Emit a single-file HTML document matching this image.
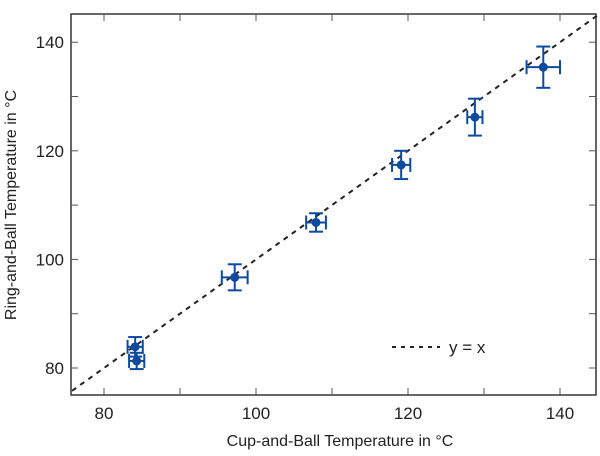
<!DOCTYPE html>
<html><head><meta charset="utf-8"><style>
html,body{margin:0;padding:0;background:#fff;}
svg{display:block;font-family:"Liberation Sans",sans-serif;}
</style></head><body>
<svg id="chart" width="600" height="456"></svg>
<script>
const xVals=[84.1,84.3,97.2,107.9,119.1,128.8,137.8];
const yVals=[83.9,81.3,96.7,106.8,117.4,126.2,135.4];
const xErr=[1.0,1.0,1.7,1.3,1.2,1.0,2.2];
const yErr=[1.8,1.5,2.4,1.7,2.6,3.4,3.8];
const xTicks=[80,100,120,140];
const yTicks=[80,100,120,140];
const minorX=[90,110,130];
const minorY=[90,110,130];
const L=71,R=596,T=14,B=395;
const sx=v=>104+(v-80)*7.6;
const sy=v=>368-(v-80)*5.43;
const NS="http://www.w3.org/2000/svg";
const svg=document.getElementById('chart');
function mk(tag,attrs,parent){const e=document.createElementNS(NS,tag);for(const k in attrs)e.setAttribute(k,attrs[k]);(parent||svg).appendChild(e);return e;}
const frame=mk('rect',{x:L,y:T,width:R-L,height:B-T,fill:'none',stroke:'#333','stroke-width':1.5});


xTicks.concat(minorX).forEach(v=>{
  const x=sx(v);
  const t1=mk('line',{x1:x,x2:x,y1:B,y2:B-7,stroke:'#555','stroke-width':1});
  
  
  const t2=mk('line',{x1:x,x2:x,y1:T,y2:T+7,stroke:'#555','stroke-width':1});
  
  
});
yTicks.concat(minorY).forEach(v=>{
  const y=sy(v);
  const t1=mk('line',{x1:L,x2:L+7,y1:y,y2:y,stroke:'#555','stroke-width':1});
  
  
  const t2=mk('line',{x1:R,x2:R-7,y1:y,y2:y,stroke:'#555','stroke-width':1});
  
  
});
xTicks.forEach(v=>{
  const t=mk('text',{x:sx(v),y:419,'text-anchor':'middle','font-size':17,fill:'#222'});
  t.textContent=v;
  
  
});
yTicks.forEach(v=>{
  const t=mk('text',{x:64,y:sy(v)+6,'text-anchor':'end','font-size':17,fill:'#222'});
  t.textContent=v;
  
  
});
const xt=mk('text',{x:340,y:446,'text-anchor':'middle','font-size':16,fill:'#222'});
xt.textContent='Cup-and-Ball Temperature in °C';


const yt=mk('text',{x:0,y:0,'text-anchor':'middle','font-size':16,fill:'#222',transform:'translate(16,205) rotate(-90)'});
yt.textContent='Ring-and-Ball Temperature in °C';


const lo=75.8,hi=145.2;
const ref=mk('line',{x1:sx(lo),y1:sy(lo),x2:sx(hi),y2:sy(hi),stroke:'#222','stroke-width':2,'stroke-dasharray':'5,5'});


const col='#0d4a9e';
xVals.forEach((xv,i)=>{
  const g=mk('g',{stroke:col,'stroke-width':2,fill:col});
  
  
  const cx=sx(xv),cy=sy(yVals[i]);
  const x1=sx(xv-xErr[i]),x2=sx(xv+xErr[i]),y1=sy(yVals[i]+yErr[i]),y2=sy(yVals[i]-yErr[i]);
  mk('line',{x1:x1,x2:x2,y1:cy,y2:cy},g);
  mk('line',{x1:x1,x2:x1,y1:cy-7,y2:cy+7},g);
  mk('line',{x1:x2,x2:x2,y1:cy-7,y2:cy+7},g);
  mk('line',{x1:cx,x2:cx,y1:y1,y2:y2},g);
  mk('line',{x1:cx-7,x2:cx+7,y1:y1,y2:y1},g);
  mk('line',{x1:cx-7,x2:cx+7,y1:y2,y2:y2},g);
  mk('circle',{cx:cx,cy:cy,r:4.5,stroke:'none'},g);
});
const lg=mk('g',{});


mk('line',{x1:392,x2:440,y1:347,y2:347,stroke:'#222','stroke-width':2,'stroke-dasharray':'4,5'},lg);
const lt=mk('text',{x:449,y:353,'font-size':17,fill:'#222'},lg);
lt.textContent='y = x';
</script>
</body></html>
